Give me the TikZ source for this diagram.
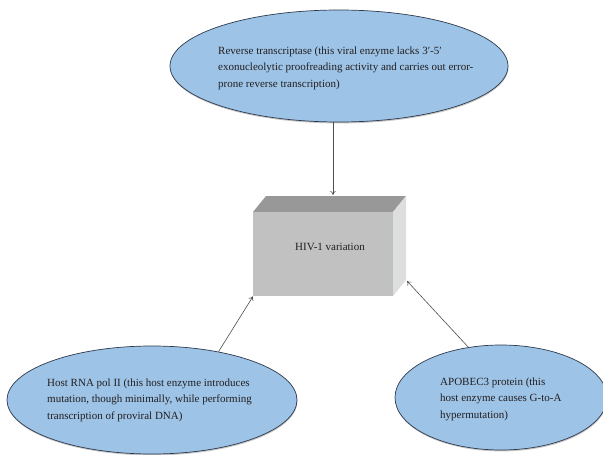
\documentclass[tikz,border=0pt]{standalone}
\usepackage{fontspec}
\setmainfont{Liberation Serif}
\usetikzlibrary{shapes.geometric,arrows.meta,shadows}
\definecolor{ellfill}{HTML}{9DC3E6}
\definecolor{elledge}{HTML}{2E3B4E}
\definecolor{boxtop}{HTML}{989898}
\definecolor{boxfront}{HTML}{C1C1C1}
\definecolor{boxside}{HTML}{DDDEDF}
\definecolor{arrowgray}{HTML}{4D4D4D}
\definecolor{ink}{HTML}{231F20}
\begin{document}
\begin{tikzpicture}[x=1pt,y=-1pt,
  bubble/.style={ellipse, draw=elledge, line width=0.7pt, fill=ellfill, inner sep=0pt,
    drop shadow={shadow xshift=0.4pt, shadow yshift=-1.4pt, opacity=0.45}},
  bubbletext/.style={align=left, text=ink, font=\fontsize{11}{16.5}\selectfont, inner sep=0pt, anchor=west},
  link/.style={draw=arrowgray, line width=0.6pt, -{To[length=4pt,width=5.5pt]}}]
  \useasboundingbox (0,0) rectangle (603,455);
  \fill[white] (0,0) rectangle (603,455);

  % the three enzymes
  \node[bubble, minimum width=338pt, minimum height=112pt] (rt) at (339,66) {};
  \node[bubbletext] (rttext) at (218,68) {Reverse transcriptase (this viral enzyme lacks 3′-5′\\
    exonucleolytic proofreading activity and carries out error-\\
    prone reverse transcription)};

  \node[bubble, minimum width=290pt, minimum height=108pt] (pol) at (152,400) {};
  \node[bubbletext] (poltext) at (47,400) {Host RNA pol II (this host enzyme introduces\\
    mutation, though minimally, while performing\\
    transcription of proviral DNA)};

  \node[bubble, minimum width=212pt, minimum height=105pt] (apo) at (501,397.5) {};
  \node[bubbletext] (apotext) at (440,399) {APOBEC3 protein (this\\
    host enzyme causes G-to-A\\
    hypermutation)};

  % the central block
  \fill[boxtop] (253,212) -- (266,196) -- (406,196) -- (393,212) -- cycle;
  \fill[boxside] (393,212) -- (406,196) -- (406,280) -- (393,296) -- cycle;
  \node[fill=boxfront, minimum width=140pt, minimum height=84pt, inner sep=0pt, anchor=north west] (hiv) at (253,212) {};
  \node[text=ink, font=\fontsize{11}{13}\selectfont, inner sep=0pt] (hivtext) at (330,247) {HIV-1 variation};

  % connectors
  \coordinate (hivtop) at (333,195);
  \coordinate (hivside) at (407,281);
  \draw[link] (rt.south -| hivtop) -- (hivtop);
  \draw[link] (pol.36) -- (hiv.south west);
  \draw[link] (apo.123) -- (hivside);
\end{tikzpicture}
\end{document}
